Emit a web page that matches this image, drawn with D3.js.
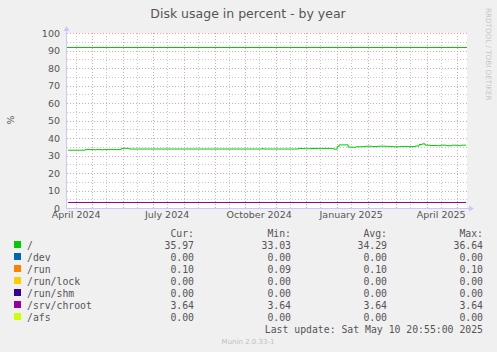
<!doctype html>
<html>
<head>
<meta charset="UTF-8">
<title>Disk usage in percent - by year</title>
<script src="https://d3js.org/d3.v7.min.js"></script>
<style>
  body { margin: 0; background: #f0f0f0; }
  svg text { font-family: "DejaVu Sans", sans-serif; }
  svg text.mono { font-family: "DejaVu Sans Mono", monospace; }
</style>
</head>
<body>
<script>
// ---- data ----
var startTime = "2024-04-05T20:55";
var endTime = "2025-05-10T20:55";

var yTicks = [0, 10, 20, 30, 40, 50, 60, 70, 80, 90, 100];
var xTickMonths = ["2024-04-01", "2024-07-01", "2024-10-01", "2025-01-01", "2025-04-01"];
var xTickLabels = ["April 2024", "July 2024", "October 2024", "January 2025", "April 2025"];

var warningLevel = 92;

// "/" usage
var rootDates = ["2024-04-07","2024-04-23","2024-04-24","2024-05-03","2024-05-04","2024-05-05",
  "2024-05-11","2024-05-12","2024-05-29","2024-05-30","2024-06-02","2024-06-06","2024-06-07",
  "2024-10-17","2024-10-18","2024-10-19","2024-11-22","2024-11-23","2024-11-30","2024-12-05",
  "2024-12-13","2024-12-17","2024-12-25","2024-12-29","2025-01-01","2025-01-03","2025-01-10",
  "2025-01-12","2025-01-17","2025-01-20","2025-01-26","2025-01-30","2025-02-05","2025-02-11",
  "2025-02-19","2025-02-26","2025-03-05","2025-03-13","2025-03-20","2025-03-24","2025-03-27",
  "2025-03-30","2025-04-04","2025-04-11","2025-04-15","2025-04-20","2025-04-26","2025-04-30",
  "2025-05-05","2025-05-10"];
var rootValues = [33.03,33.03,33.35,33.35,33.15,33.35,
  33.15,33.35,33.4,33.9,34.1,34.1,33.7,
  33.7,34.0,33.7,33.7,33.95,33.85,34.0,
  33.9,34.05,33.9,33.6,35.2,36.05,36.1,
  34.8,34.7,35.0,35.1,35.3,35.1,35.3,
  35.2,35.0,35.2,35.1,35.4,36.3,36.64,
  35.9,35.7,35.6,35.9,35.6,35.9,35.6,
  35.9,35.97];

var chrootValue = 3.64;
var runValue = 0.10;
var flatValue = 0;

var legendNames = ["/", "/dev", "/run", "/run/lock", "/run/shm", "/srv/chroot", "/afs"];
var legendColors = ["#00cc00", "#0066b3", "#ff8000", "#ffcc00", "#330099", "#990099", "#ccff00"];
var curVals = ["35.97", "0.00", "0.10", "0.00", "0.00", "3.64", "0.00"];
var minVals = ["33.03", "0.00", "0.09", "0.00", "0.00", "3.64", "0.00"];
var avgVals = ["34.29", "0.00", "0.10", "0.00", "0.00", "3.64", "0.00"];
var maxVals = ["36.64", "0.00", "0.10", "0.00", "0.00", "3.64", "0.00"];

// ---- drawing ----
var W = 497, H = 352;
var pLeft = 67, pRight = 467, pTop = 33, pBottom = 208;

var svg = d3.select("body").append("svg").attr("width", W).attr("height", H);
svg.append("rect").attr("width", W).attr("height", H).attr("fill", "#f0f0f0");

var t0 = new Date(startTime), t1 = new Date(endTime);
var x = d3.scaleTime().domain([t0, t1]).range([pLeft, pRight]);
var y = d3.scaleLinear().domain([0, 100]).range([pBottom, pTop]);

svg.append("rect").attr("x", pLeft).attr("y", pTop).attr("width", pRight - pLeft).attr("height", pBottom - pTop)
  .attr("fill", "#ffffff");

// minor grid
var minorY = d3.range(5, 100, 10);
svg.append("g").selectAll("line").data(minorY).enter().append("line")
  .attr("x1", pLeft).attr("x2", pRight)
  .attr("y1", function(d){ return Math.round(y(d)) + 0.5; })
  .attr("y2", function(d){ return Math.round(y(d)) + 0.5; })
  .attr("stroke", "#c8c8c8").attr("stroke-dasharray", "1,2");

var months = d3.timeMonth.range(d3.timeMonth.ceil(t0), t1);
var mids = months.map(function(m){ return d3.timeDay.offset(m, 14); });
mids.unshift(new Date("2024-04-15"));
svg.append("g").selectAll("line").data(mids.filter(function(d){ return d > t0 && d < t1; })).enter().append("line")
  .attr("x1", function(d){ return Math.round(x(d)) + 0.5; })
  .attr("x2", function(d){ return Math.round(x(d)) + 0.5; })
  .attr("y1", pTop).attr("y2", pBottom)
  .attr("stroke", "#c8c8c8").attr("stroke-dasharray", "1,2");

// major grid
svg.append("g").selectAll("line").data(yTicks.slice(1)).enter().append("line")
  .attr("x1", pLeft).attr("x2", pRight)
  .attr("y1", function(d){ return Math.round(y(d)) + 0.5; })
  .attr("y2", function(d){ return Math.round(y(d)) + 0.5; })
  .attr("stroke", "#f0a0a0").attr("stroke-dasharray", "1,2");

svg.append("g").selectAll("line").data(months).enter().append("line")
  .attr("x1", function(d){ return Math.round(x(d)) + 0.5; })
  .attr("x2", function(d){ return Math.round(x(d)) + 0.5; })
  .attr("y1", pTop).attr("y2", pBottom)
  .attr("stroke", "#f0a0a0").attr("stroke-dasharray", "1,2");

// warning rule
svg.append("line").attr("x1", pLeft).attr("x2", pRight)
  .attr("y1", Math.round(y(warningLevel)) + 0.5).attr("y2", Math.round(y(warningLevel)) + 0.5)
  .attr("stroke", "#00cc00").attr("stroke-width", 1);

// series
var flatStart = new Date("2024-04-07"), flatEnd = new Date("2025-05-10");
function flat(v, color) {
  svg.append("line")
    .attr("x1", x(flatStart)).attr("x2", x(flatEnd))
    .attr("y1", Math.round(y(v)) + 0.5).attr("y2", Math.round(y(v)) + 0.5)
    .attr("stroke", color).attr("stroke-width", 1);
}
flat(runValue, legendColors[2]);
flat(flatValue, legendColors[6]);
flat(chrootValue, legendColors[5]);

var rootData = rootDates.map(function(d, i){ return { t: new Date(d), v: rootValues[i] }; });
var line = d3.line()
  .x(function(d){ return x(d.t); })
  .y(function(d){ return y(d.v); })
  .curve(d3.curveStepAfter);
svg.append("path").datum(rootData).attr("d", line)
  .attr("fill", "none").attr("stroke", legendColors[0]).attr("stroke-width", 1);

// axes
var axisCol = "#c8c8ff";
svg.append("line").attr("x1", pLeft - 0.5).attr("x2", pLeft - 0.5).attr("y1", pTop - 4).attr("y2", pBottom + 1)
  .attr("stroke", axisCol);
svg.append("line").attr("x1", pLeft - 1).attr("x2", pRight + 4).attr("y1", pBottom + 0.5).attr("y2", pBottom + 0.5)
  .attr("stroke", axisCol);
svg.append("path").attr("d", "M" + (pLeft - 3.5) + "," + (pTop - 2) + "L" + (pLeft - 0.5) + "," + (pTop - 7) + "L" + (pLeft + 2.5) + "," + (pTop - 2) + "Z")
  .attr("fill", axisCol);
svg.append("path").attr("d", "M" + (pRight + 2) + "," + (pBottom - 2.5) + "L" + (pRight + 7) + "," + (pBottom + 0.5) + "L" + (pRight + 2) + "," + (pBottom + 3.5) + "Z")
  .attr("fill", axisCol);

// y tick labels
svg.append("g").selectAll("text").data(yTicks).enter().append("text")
  .attr("x", 60).attr("y", function(d){ return y(d) + 3.5; })
  .attr("text-anchor", "end").attr("font-size", "9.5px").attr("fill", "#555")
  .text(function(d){ return d; });

// x tick labels, centred mid-month
svg.append("g").selectAll("text").data(xTickMonths).enter().append("text")
  .attr("x", function(d){ return x(d3.timeDay.offset(new Date(d), 14)); })
  .attr("y", 218)
  .attr("text-anchor", "middle").attr("font-size", "9.5px").attr("fill", "#555")
  .text(function(d, i){ return xTickLabels[i]; });

// titles
svg.append("text").attr("x", 248).attr("y", 18).attr("text-anchor", "middle")
  .attr("font-size", "12.5px").attr("fill", "#555").text("Disk usage in percent - by year");
svg.append("text").attr("transform", "translate(14,120) rotate(-90)").attr("text-anchor", "middle")
  .attr("font-size", "9.5px").attr("fill", "#555").text("%");
svg.append("text").attr("transform", "translate(486,8) rotate(90)").attr("text-anchor", "start")
  .attr("font-size", "7.2px").attr("fill", "#c8c8c8").text("RRDTOOL / TOBI OETIKER");

// legend
var lg = svg.append("g");
var cols = [{ x: 194, h: "Cur:", v: curVals }, { x: 291, h: "Min:", v: minVals },
            { x: 387, h: "Avg:", v: avgVals }, { x: 483, h: "Max:", v: maxVals }];
var rowY = function(i){ return 249 + i * 12; };
cols.forEach(function(c){
  lg.append("text").attr("class", "mono").attr("x", c.x).attr("y", 237).attr("text-anchor", "end")
    .attr("font-size", "9.8px").attr("fill", "#555").text(c.h);
  lg.selectAll(null).data(c.v).enter().append("text").attr("class", "mono")
    .attr("x", c.x).attr("y", function(d, i){ return rowY(i); }).attr("text-anchor", "end")
    .attr("font-size", "9.8px").attr("fill", "#555").text(function(d){ return d; });
});
lg.selectAll(null).data(legendNames).enter().append("rect")
  .attr("x", 14).attr("y", function(d, i){ return rowY(i) - 8; })
  .attr("width", 7).attr("height", 7)
  .attr("fill", function(d, i){ return legendColors[i]; });
lg.selectAll(null).data(legendNames).enter().append("text").attr("class", "mono")
  .attr("x", 27).attr("y", function(d, i){ return rowY(i); })
  .attr("font-size", "9.8px").attr("fill", "#555").text(function(d){ return d; });
lg.append("text").attr("class", "mono").attr("x", 483).attr("y", 333).attr("text-anchor", "end")
  .attr("font-size", "9.8px").attr("fill", "#555").text("Last update:  Sat May 10 20:55:00 2025");
svg.append("text").attr("x", 248).attr("y", 344).attr("text-anchor", "middle")
  .attr("font-size", "7px").attr("fill", "#c0c0c0").text("Munin 2.0.33-1");
</script>
</body>
</html>
